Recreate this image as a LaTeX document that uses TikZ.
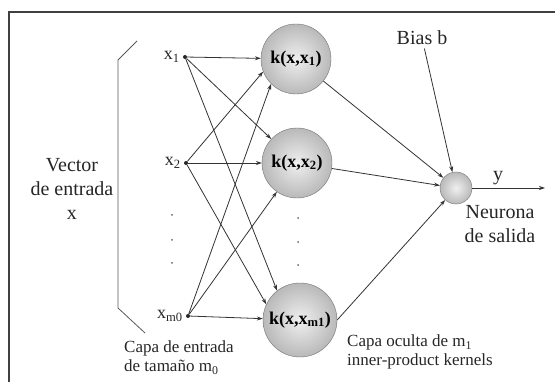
\documentclass[tikz,border=0pt]{standalone}
\usepackage{fontspec}
\setmainfont{Liberation Serif}
\usetikzlibrary{arrows.meta,positioning}

\begin{document}
\begin{tikzpicture}[
    x=1pt, y=-1pt,
    node distance = 3pt,
    kernel/.style = {circle, draw=black!55, inner sep=0pt, minimum size=70pt, inner color=gray!12, outer color=gray!55, font=\fontsize{18}{20}\selectfont\bfseries},
    outneuron/.style = {kernel, minimum size=32pt},
    indot/.style = {circle, fill=black!85, inner sep=0pt, minimum size=4pt},
    vdot/.style = {circle, fill=black!60, inner sep=0pt, minimum size=2pt},
    biglabel/.style = {align=center, text=black!85, font=\fontsize{20}{24}\selectfont},
    smalllabel/.style = {align=left, anchor=north west, inner sep=0pt, text=black!85, font=\fontsize{17}{19}\selectfont},
    inlabel/.style = {inner sep=0pt, text=black!85, font=\fontsize{18}{19}\selectfont},
    arrow/.style = {black!80, line width=0.8pt, -{Stealth[length=6pt,width=4pt]}},
    frame/.style = {black!75, line width=1.5pt},
    bracket/.style = {black!65, line width=0.8pt}
]
\useasboundingbox (0,0) rectangle (555,382);
\clip (0,0) rectangle (555,382);

% Frame
\draw [frame] (560,12) -- (9,12) -- (9,390);

% Input layer
\node [indot] (i1) at (185,57) {};
\node [indot] (i2) at (186,163) {};
\node [indot] (i3) at (188,316) {};
\node [inlabel, left=of i1] (lx1) {x\textsubscript{1}};
\node [inlabel, left=of i2] (lx2) {x\textsubscript{2}};
\node [inlabel, left=of i3] (lx3) {x\textsubscript{m0}};
\foreach \y in {215,240,263}
    \node [vdot] (vi\y) at (172,\y) {};

\node [biglabel] (vec) at (72,189) {Vector\\de entrada\\x};
\draw [bracket] (137,41) -- (118,60) -- (118,308) -- (145,333);
\node [smalllabel] (capin) at (124,341) {Capa de entrada\\de tamaño m\textsubscript{0}};

% Hidden layer
\node [kernel] (k1) at (296,59) {k(x,x\textsubscript{1})};
\node [kernel] (k2) at (297,163) {k(x,x\textsubscript{2})};
\node [kernel, minimum size=74pt] (k3) at (300,320) {k(x,x\textsubscript{m1})};
\foreach \y in {218,242,265}
    \node [vdot] (vh\y) at (298,\y) {};
\node [smalllabel] (caphid) at (347,335) {Capa oculta de m\textsubscript{1}\\inner-product kernels};

% Output
\node [outneuron] (out) at (456,188) {};
\node [biglabel] (bias) at (422,38) {Bias b};
\node [biglabel] (outlbl) at (500,224) {Neurona\\de salida};
\coordinate (yend) at (545,188);
\node [biglabel] (ylbl) at (498,178) {y};

% Arrows
\draw [arrow] (i1) -- (k1);
\draw [arrow] (i1) -- (k2.137);
\draw [arrow] (i1) -- (k3.128);
\draw [arrow] (i2) -- (k1.201);
\draw [arrow] (i2) -- (k2);
\draw [arrow] (i2) -- (k3.155);
\draw [arrow] (i3) -- (k1.225);
\draw [arrow] (i3) -- (k2.235);
\draw [arrow] (i3) -- (k3);
\draw [arrow] (k1) -- (out);
\draw [arrow] (k2) -- (out);
\draw [arrow] (k3.east) -- (out);
\draw [arrow] (bias) -- (out);
\draw [arrow] (out) -- (yend);

\end{tikzpicture}
\end{document}
